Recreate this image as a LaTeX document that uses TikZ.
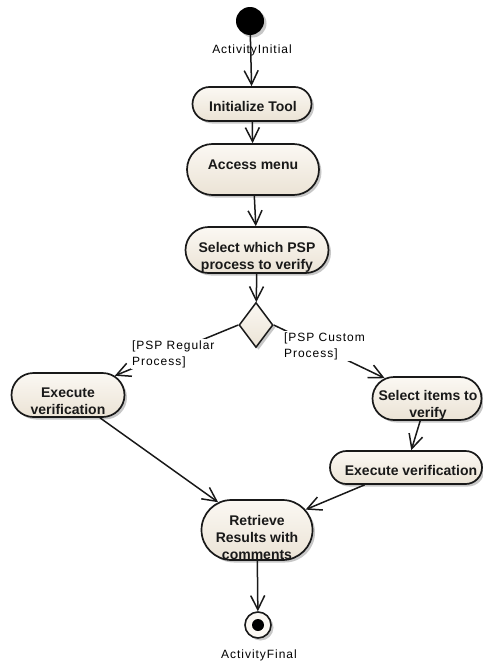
\documentclass[tikz,border=0pt]{standalone}
\usepackage{fontspec}
\setmainfont{Liberation Sans}
\newfontfamily\guardfont[LetterSpace=8]{Liberation Sans}
\usetikzlibrary{shapes.misc,shapes.geometric,arrows.meta,shadows}
\definecolor{acttop}{RGB}{251,248,243}
\definecolor{actbot}{RGB}{235,227,213}
\definecolor{ink}{RGB}{25,25,25}
\begin{document}
\begin{tikzpicture}[x=1pt,y=-1pt,
  softshadow/.style={drop shadow={shadow xshift=2.5pt,shadow yshift=-2.5pt,opacity=0.22,fill=black}},
  act/.style={rounded rectangle,draw=ink,line width=1.7pt,top color=acttop,bottom color=actbot,
    inner sep=0pt,softshadow},
  acttext/.style={font=\fontsize{14}{17}\selectfont\bfseries,align=center,inner sep=0pt,text=ink},
  lbl/.style={font=\guardfont\fontsize{12}{16}\selectfont,inner sep=0pt,text=black},
  guard/.style={lbl,align=left,fill=white,inner sep=1pt},
  flow/.style={draw=ink,line width=1.5pt,-{Straight Barb[length=14pt,width=14pt,line width=1.5pt]}},
  decision/.style={diamond,draw=ink,line width=1.5pt,top color=acttop,bottom color=actbot,
    inner sep=0pt,minimum width=34pt,minimum height=45pt,softshadow},
]
\useasboundingbox (0,0) rectangle (482,664);

% start and end points
\node[circle,fill=black,inner sep=0pt,minimum size=28pt,softshadow] (ini) at (250,21) {};
\node[circle,draw=ink,line width=1.6pt,fill=acttop,inner sep=0pt,minimum size=26pt,softshadow] (fin) at (258,625) {};
\node[circle,fill=black,inner sep=0pt,minimum size=12pt] (finin) at (fin) {};

% activities
\node[act,minimum width=119pt,minimum height=34pt] (init) at (252,104) {};
\node[acttext] (initT) at (253,106) {Initialize Tool};

\node[act,minimum width=132pt,minimum height=51pt] (acc) at (253,169.5) {};
\node[acttext] (accT) at (253,165) {Access menu};

\node[act,minimum width=143pt,minimum height=46pt] (sel) at (257,250) {};
\node[acttext] (selT) at (257,257) {Select which PSP\\process to verify};

\node[decision] (dec) at (256,325) {};

\node[act,minimum width=113pt,minimum height=44pt] (exl) at (68,395) {};
\node[acttext] (exlT) at (68,401) {Execute\\verification};

\node[act,minimum width=109pt,minimum height=43pt] (its) at (427,398.5) {};
\node[acttext] (itsT) at (428,405) {Select items to\\verify};

\node[act,minimum width=152pt,minimum height=33pt] (exr) at (406,467.5) {};
\node[acttext] (exrT) at (411,470) {Execute verification};

\node[act,minimum width=111pt,minimum height=60pt] (ret) at (257,530) {};
\node[acttext] (retT) at (257,537) {Retrieve\\Results with\\comments};

% control flow
\draw[flow] (ini) -- (init);
\draw[flow] (init) -- (acc);
\draw[flow] (acc) -- (sel);
\draw[flow] (sel) -- (dec);
\draw[flow] (dec.west) -- (exl);
\draw[flow] (dec.east) -- (its);
\draw[flow] (its) -- (exr);
\draw[flow] (exl) -- (ret);
\draw[flow] (exr) -- (ret);
\draw[flow] (ret) -- (fin);

% labels
\node[lbl] (iniL) at (252,50) {ActivityInitial};
\node[lbl] (finL) at (259,655) {ActivityFinal};
\node[guard,anchor=west] (gReg) at (131,354) {[PSP Regular\\Process]};
\node[guard,anchor=west] (gCus) at (283,346) {[PSP Custom\\Process]};
\end{tikzpicture}
\end{document}
